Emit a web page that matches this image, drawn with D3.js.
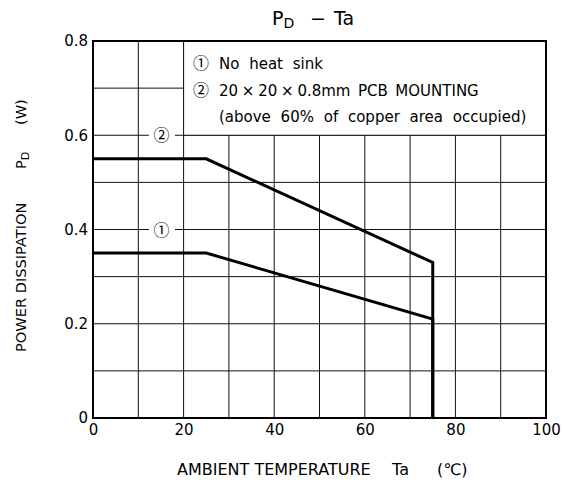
<!DOCTYPE html>
<html>
<head>
<meta charset="utf-8">
<script src="https://cdn.jsdelivr.net/npm/d3@7"></script>
<style>
  body { margin: 0; background: #fff; }
  svg { font-family: "DejaVu Sans", "Noto Sans CJK JP", sans-serif; }
  text { white-space: pre; }
  .circ { font-family: "Noto Sans CJK JP", sans-serif; }
</style>
</head>
<body>
<svg id="chart" width="563" height="483"></svg>
<script>
// curve data
const tempNoSink = [0, 25, 75, 75]
const powerNoSink = [0.35, 0.35, 0.21, 0]
const tempPcb = [0, 25, 75, 75]
const powerPcb = [0.55, 0.55, 0.33, 0]

const xTicks = [0, 20, 40, 60, 80, 100]
const yTicks = [0, 0.2, 0.4, 0.6, 0.8]
const xGrid = [10, 20, 30, 40, 50, 60, 70, 80, 90]
const yGrid = [0.1, 0.2, 0.3, 0.4, 0.5, 0.6, 0.7]

const legendMarks = ["①", "②", ""]
const legendLines = [
  "No heat sink",
  "20 × 20 × 0.8mm  PCB  MOUNTING",
  "(above 60% of copper area occupied)"
]
const curveTags = [
  { label: "②", y: 0.6 },
  { label: "①", y: 0.4 }
]

const svg = d3.select("#chart")
const pLeft = 93, pRight = 546, pTop = 41, pBottom = 418

const x = d3.scaleLinear().domain([0, 100]).range([pLeft, pRight])
const y = d3.scaleLinear().domain([0, 0.8]).range([pBottom, pTop])

// grid
const grid = svg.append("g").attr("stroke", "#111").attr("stroke-width", 1)
grid.selectAll(".vx").data(xGrid).join("line")
  .attr("x1", d => x(d)).attr("x2", d => x(d))
  .attr("y1", pTop).attr("y2", pBottom)
grid.selectAll(".hy").data(yGrid).join("line")
  .attr("x1", pLeft).attr("x2", pRight)
  .attr("y1", d => y(d)).attr("y2", d => y(d))

// legend box covers the grid in the top right
svg.append("rect")
  .attr("x", x(20)).attr("y", y(0.8))
  .attr("width", x(100) - x(20)).attr("height", y(0.6) - y(0.8))
  .attr("fill", "#fff").attr("stroke", "#111").attr("stroke-width", 1)

const legend = svg.append("g").attr("font-size", 15)
legend.selectAll(".mark").data(legendMarks).join("text")
  .attr("class", "circ")
  .attr("x", 193).attr("y", (d, i) => 69 + i * 26.5)
  .attr("font-size", 16)
  .text(d => d)
legend.selectAll(".txt").data(legendLines).join("text")
  .attr("x", 219).attr("y", (d, i) => 69 + i * 26.5)
  .attr("word-spacing", (d, i) => i === 1 ? -1 : 5)
  .text(d => d)

// circled tags on the grid lines
curveTags.forEach(t => {
  svg.append("rect")
    .attr("x", 149).attr("y", y(t.y) - 8)
    .attr("width", 26).attr("height", 16)
    .attr("fill", "#fff")
  svg.append("text")
    .attr("class", "circ")
    .attr("x", 161.5).attr("y", y(t.y) + 6)
    .attr("text-anchor", "middle").attr("font-size", 16)
    .text(t.label)
})

// frame
svg.append("rect")
  .attr("x", pLeft).attr("y", pTop)
  .attr("width", pRight - pLeft).attr("height", pBottom - pTop)
  .attr("fill", "none").attr("stroke", "#000").attr("stroke-width", 2)

// curves
const line = d3.line().x(d => x(d[0])).y(d => y(d[1]))
const curves = [d3.zip(tempNoSink, powerNoSink), d3.zip(tempPcb, powerPcb)]
svg.append("g")
  .selectAll("path").data(curves).join("path")
  .attr("d", line)
  .attr("fill", "none").attr("stroke", "#000").attr("stroke-width", 3)
  .attr("stroke-linejoin", "miter")

// axes (labels only, lines drawn by grid/frame)
const xAxis = svg.append("g")
  .attr("transform", `translate(0,${pBottom})`)
  .call(d3.axisBottom(x).tickValues(xTicks).tickSize(0).tickPadding(6).tickFormat(d3.format("d")))
xAxis.select(".domain").remove()
xAxis.selectAll("text").attr("font-size", 15).attr("fill", "#000")
xAxis.attr("font-family", null)

const yAxis = svg.append("g")
  .attr("transform", `translate(${pLeft},0)`)
  .call(d3.axisLeft(y).tickValues(yTicks).tickSize(0).tickPadding(5).tickFormat(d => d === 0 ? "0" : d3.format(".1f")(d)))
yAxis.select(".domain").remove()
yAxis.selectAll("text").attr("font-size", 15).attr("fill", "#000")
yAxis.attr("font-family", null)

// title
const title = svg.append("text").attr("y", 25).attr("font-size", 19)
title.append("tspan").attr("x", 272).text("P")
title.append("tspan").attr("font-size", 14).attr("dy", 3).text("D")
title.append("tspan").attr("x", 310).attr("dy", -3).text("−")
title.append("tspan").attr("x", 334).text("Ta")

// axis titles
const xTitle = svg.append("text").attr("y", 475).attr("font-size", 16)
xTitle.append("tspan").attr("x", 177).text("AMBIENT TEMPERATURE")
xTitle.append("tspan").attr("x", 392).text("Ta")
xTitle.append("tspan").attr("x", 437).text("(℃)")

const yTitle = svg.append("text")
  .attr("transform", "translate(26,0) rotate(-90)")
  .attr("font-size", 14.6)
yTitle.append("tspan").attr("x", -352).text("POWER DISSIPATION")
yTitle.append("tspan").attr("x", -169).text("P")
yTitle.append("tspan").attr("font-size", 11).attr("dy", 3).text("D")
yTitle.append("tspan").attr("x", -125).attr("dy", -3).text("(W)")
</script>
</body>
</html>
